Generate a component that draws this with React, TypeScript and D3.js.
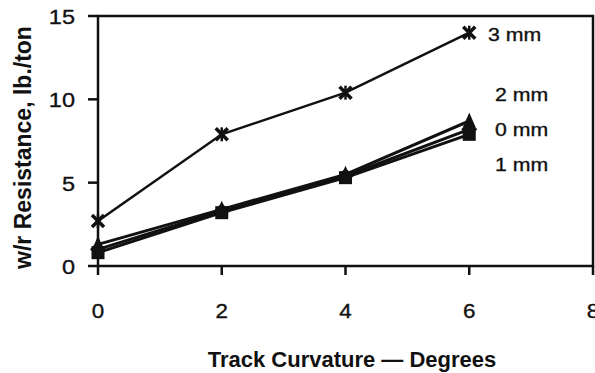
import React from "react";
import * as d3 from "d3";

const curvature = [0, 2, 4, 6];
const seriesNames = ["0 mm", "1 mm", "2 mm", "3 mm"];
const values0 = [1.0, 3.3, 5.4, 8.2];
const values1 = [0.8, 3.2, 5.3, 7.9];
const values2 = [1.3, 3.4, 5.5, 8.7];
const values3 = [2.7, 7.9, 10.4, 14.0];
const xTicks = [0, 2, 4, 6, 8];
const yTicks = [0, 5, 10, 15];
const markerTypes = ["diamond", "square", "triangle", "star"];
const labelY = [8.3, 6.2, 10.4, 14.0];

const W = 595, H = 373;
const x = d3.scaleLinear().domain([0, 8]).range([98, 593]);
const y = d3.scaleLinear().domain([0, 15]).range([266, 16]);

function Marker({ type, cx, cy }: { type: string; cx: number; cy: number }) {
  const s = 6.5;
  if (type === "square") return <rect x={cx - s} y={cy - s} width={2 * s} height={2 * s} fill="#111" />;
  if (type === "diamond") return <path d={`M${cx},${cy - s - 1.5}L${cx + s + 1.5},${cy}L${cx},${cy + s + 1.5}L${cx - s - 1.5},${cy}Z`} fill="#111" />;
  if (type === "triangle") return <path d={`M${cx},${cy - s - 2}L${cx + s},${cy + s}L${cx - s},${cy + s}Z`} fill="#111" />;
  return (
    <g stroke="#111" strokeWidth={3.5}>
      <line x1={cx - 6} y1={cy - 6} x2={cx + 6} y2={cy + 6} />
      <line x1={cx - 6} y1={cy + 6} x2={cx + 6} y2={cy - 6} />
      <line x1={cx} y1={cy - 7} x2={cx} y2={cy + 7} strokeWidth={2.5} />
    </g>
  );
}

function HText({ x0, y0, size, anchor, bold, children }: any) {
  return (
    <text
      transform={`translate(${x0},${y0}) scale(1.12,1)`}
      textAnchor={anchor}
      fontSize={size}
      fontWeight={bold ? "bold" : "normal"}
      fill="#111"
      stroke="#111"
      strokeWidth={0.35}
    >
      {children}
    </text>
  );
}

export default function App() {
  const all = [values0, values1, values2, values3];
  const line = d3.line<number>().x((_, i) => x(curvature[i])).y((d) => y(d));
  const font = "Arial, 'Liberation Sans', sans-serif";
  return (
    <svg width={W} height={H} style={{ position: "absolute", left: 0, top: 0 }} fontFamily={font}>
      <rect width={W} height={H} fill="#fff" />
      <rect x={x(0)} y={y(15)} width={x(8) - x(0)} height={y(0) - y(15)} fill="none" stroke="#111" strokeWidth={2.5} />
      {xTicks.map((t) => (
        <line key={"xt" + t} x1={x(t)} x2={x(t)} y1={y(0)} y2={y(0) + 9} stroke="#111" strokeWidth={2.5} />
      ))}
      {yTicks.map((t) => (
        <line key={"yt" + t} x1={x(0) - 10} x2={x(0)} y1={y(t)} y2={y(t)} stroke="#111" strokeWidth={2.5} />
      ))}
      {xTicks.map((t) => (
        <HText key={"xl" + t} x0={x(t)} y0={318} size={20} anchor="middle">{t}</HText>
      ))}
      {yTicks.map((t) => (
        <HText key={"yl" + t} x0={75} y0={y(t) + 8} size={21} anchor="end">{t}</HText>
      ))}
      <text x={352} y={367} textAnchor="middle" fontSize={22} fontWeight="bold" fill="#111">Track Curvature — Degrees</text>
      <text transform={`translate(31,${(15 + 280) / 2}) rotate(-90)`} textAnchor="middle" fontSize={23} fontWeight="bold" fill="#111">w/r Resistance, lb./ton</text>
      {all.map((vals, si) => (
        <path key={"l" + si} d={line(vals) || ""} fill="none" stroke="#111" strokeWidth={si === 3 ? 2.5 : 3} />
      ))}
      {all.map((vals, si) =>
        vals.map((v, i) => <Marker key={`m${si}-${i}`} type={markerTypes[si]} cx={x(curvature[i])} cy={y(v)} />)
      )}
      {seriesNames.map((n, si) => (
        <HText key={"n" + si} x0={si === 3 ? 488 : 495} y0={y(labelY[si]) + 8} size={19} anchor="start">{n}</HText>
      ))}
    </svg>
  );
}
